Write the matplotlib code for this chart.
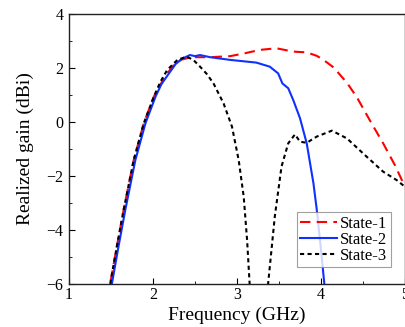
import numpy as np
import matplotlib.pyplot as plt

plt.rcParams['font.family'] = ['Liberation Serif', 'DejaVu Serif']

# State-1
f1 = [1.45, 1.49, 1.57, 1.65, 1.77, 1.89, 2.01, 2.1, 2.17, 2.25, 2.33, 2.45, 2.68, 2.92, 3.1,
      3.27, 3.47, 3.6, 3.7, 3.83, 3.95, 4.03, 4.15, 4.31, 4.43, 4.58, 4.74, 4.88, 5.0]
g1 = [-7.1, -6.0, -4.6, -3.26, -1.41, -0.05, 0.94, 1.45, 1.8, 2.12, 2.3, 2.4, 2.4, 2.44, 2.55,
      2.67, 2.73, 2.65, 2.6, 2.58, 2.45, 2.3, 2.02, 1.45, 0.9, 0.07, -0.79, -1.6, -2.4]

# State-2
f2 = [1.47, 1.51, 1.59, 1.67, 1.79, 1.91, 2.03, 2.1, 2.19, 2.27, 2.35, 2.44, 2.5, 2.56, 2.68,
      2.92, 3.23, 3.39, 3.49, 3.54, 3.61, 3.67, 3.75, 3.83, 3.91, 3.95, 4.0, 4.04, 4.06]
g2 = [-7.1, -6.0, -4.6, -3.26, -1.41, -0.05, 0.94, 1.4, 1.8, 2.15, 2.35, 2.48, 2.44, 2.48, 2.4,
      2.3, 2.2, 2.05, 1.8, 1.43, 1.25, 0.81, 0.14, -0.79, -2.27, -3.26, -4.74, -6.0, -6.6]

# State-3 (two branches around the deep null)
f3a = [1.45, 1.49, 1.57, 1.65, 1.77, 1.89, 2.01, 2.09, 2.17, 2.29, 2.4, 2.48, 2.56, 2.64, 2.72,
       2.84, 2.94, 3.02, 3.08, 3.12, 3.15, 3.16]
g3a = [-7.1, -6.0, -4.6, -3.26, -1.41, -0.05, 0.94, 1.5, 1.93, 2.3, 2.42, 2.3, 2.05, 1.78, 1.43,
       0.69, -0.17, -1.41, -2.77, -4.37, -5.97, -6.6]
f3b = [3.36, 3.37, 3.45, 3.53, 3.61, 3.69, 3.75, 3.83, 3.95, 4.13, 4.31, 4.5, 4.74, 4.9, 5.0]
g3b = [-6.6, -6.0, -3.5, -1.65, -0.79, -0.46, -0.73, -0.77, -0.54, -0.32, -0.61, -1.16, -1.84,
       -2.15, -2.4]

fig = plt.figure(figsize=(4.06, 3.27), dpi=100)
ax = fig.add_axes([69/406, 1-284/327, 336/406, 270/327])

ax.plot(f1, g1, color='red', ls=(0, (5, 3)), lw=1.5, label='State-1')
ax.plot(f2, g2, color='#1030ff', ls='-', lw=1.5, label='State-2')
ax.plot(f3a, g3a, color='black', ls=(0, (2, 1.6)), lw=1.5, label='State-3')
ax.plot(f3b, g3b, color='black', ls=(0, (2, 1.6)), lw=1.5)

ax.set_xlim(1, 5)
ax.set_ylim(-6, 4)
ax.set_xticks([1, 2, 3, 4, 5])
ax.set_xticks(np.arange(1.5, 5, 1), minor=True)
ax.set_yticks([-6, -4, -2, 0, 2, 4])
ax.set_yticks([-5, -3, -1, 1, 3], minor=True)
ax.tick_params(direction='in', labelsize=11.5, length=4)
ax.tick_params(axis='x', pad=2)
ax.tick_params(axis='y', pad=4)
ax.tick_params(which='minor', direction='in', length=2.5)
for s in ax.spines.values():
    s.set_linewidth(1.0)
    s.set_color('#222222')
ax.set_xlabel('Frequency (GHz)', fontsize=14, labelpad=3)
ax.set_ylabel('Realized gain (dBi)', fontsize=14, labelpad=9)

leg = ax.legend(loc='lower right', bbox_to_anchor=(0.958, 0.063), fontsize=12,
                frameon=True, fancybox=False, edgecolor='#888888',
                handlelength=2.2, handletextpad=0.2, borderpad=0.2, labelspacing=0.0,
                borderaxespad=0)
leg.get_frame().set_linewidth(0.8)

fig.savefig('out.png', dpi=100)
